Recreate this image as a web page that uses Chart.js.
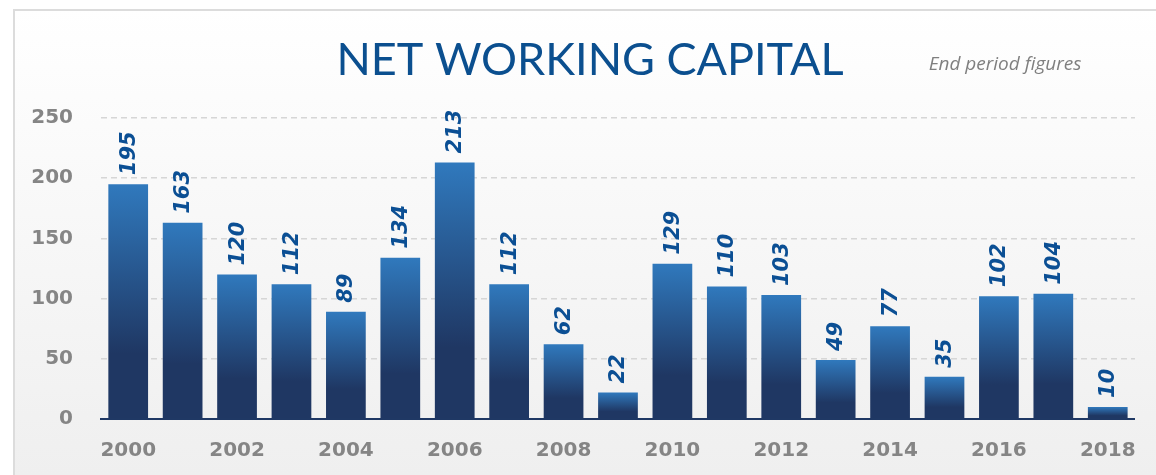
<!DOCTYPE html>
<html>
<head>
<meta charset="utf-8">
<title>Net Working Capital</title>
<script src="https://cdn.jsdelivr.net/npm/chart.js@4.4.1/dist/chart.umd.min.js"></script>
<style>
  html, body { margin: 0; padding: 0; background: #ffffff; }
  #wrap { width: 1156px; height: 475px; position: relative; }
</style>
</head>
<body>
<div id="wrap"><canvas id="nwc"></canvas></div>
<script>
// chart data
const years = ['2000', '2001', '2002', '2003', '2004', '2005', '2006', '2007', '2008', '2009',
               '2010', '2011', '2012', '2013', '2014', '2015', '2016', '2017', '2018'];
const netWorkingCapital = [195, 163, 120, 112, 89, 134, 213, 112, 62, 22,
                           129, 110, 103, 49, 77, 35, 102, 104, 10];
const yTicks = [0, 50, 100, 150, 200, 250];

const titleText = 'NET WORKING CAPITAL';
const subtitleText = 'End period figures';

const NUM_FONT = '"DejaVu Sans", sans-serif';

// panel background + border
const panelBackground = {
    id: 'panelBackground',
    beforeDraw(chart) {
        const { ctx, width, height } = chart;
        ctx.save();
        ctx.fillStyle = '#ffffff';
        ctx.fillRect(0, 0, width, height);
        const g = ctx.createLinearGradient(0, 9, 0, height);
        g.addColorStop(0, '#ffffff');
        g.addColorStop(1, '#efefef');
        ctx.fillStyle = g;
        ctx.fillRect(13, 9, width - 13, height - 9);
        ctx.strokeStyle = '#dcdcdc';
        ctx.lineWidth = 2;
        ctx.beginPath();
        ctx.moveTo(width, 10);
        ctx.lineTo(14, 10);
        ctx.lineTo(14, height);
        ctx.stroke();
        ctx.restore();
    }
};

// title and the small note on the right
const headerText = {
    id: 'headerText',
    afterDraw(chart) {
        const { ctx } = chart;
        ctx.save();
        ctx.fillStyle = '#0b4f8f';
        ctx.font = '45px Lato, sans-serif';
        ctx.textAlign = 'center';
        ctx.textBaseline = 'alphabetic';
        ctx.fillText(titleText, 590, 75);

        ctx.fillStyle = '#7f7f7f';
        ctx.font = 'italic 19px "Open Sans", sans-serif';
        ctx.fillText(subtitleText, 1005, 70);
        ctx.restore();
    }
};

// rotated value labels above each bar
const barValueLabels = {
    id: 'barValueLabels',
    afterDatasetsDraw(chart) {
        const { ctx } = chart;
        const meta = chart.getDatasetMeta(0);
        ctx.save();
        ctx.fillStyle = '#0b4f94';
        ctx.font = 'italic bold 21px ' + NUM_FONT;
        ctx.textAlign = 'left';
        ctx.textBaseline = 'middle';
        meta.data.forEach((bar, i) => {
            ctx.save();
            ctx.translate(bar.x + 1, bar.y - 9);
            ctx.rotate(-Math.PI / 2);
            ctx.fillText(String(netWorkingCapital[i]), 0, 0);
            ctx.restore();
        });
        ctx.restore();
    }
};

function barGradient(context) {
    const chart = context.chart;
    const { chartArea, scales } = chart;
    if (!chartArea || !scales.y) {
        return '#2a5f9e';
    }
    const top = scales.y.getPixelForValue(context.raw);
    const base = scales.y.getPixelForValue(0);
    const g = chart.ctx.createLinearGradient(0, top, 0, base);
    g.addColorStop(0, '#3079bd');
    g.addColorStop(0.72, '#1f3763');
    g.addColorStop(1, '#1f3763');
    return g;
}

const chart = new Chart(document.getElementById('nwc'), {
    type: 'bar',
    data: {
        labels: years,
        datasets: [{
            label: 'Net working capital',
            data: netWorkingCapital,
            backgroundColor: barGradient,
            borderWidth: 0,
            barPercentage: 0.73,
            categoryPercentage: 1.0
        }]
    },
    options: {
        responsive: true,
        maintainAspectRatio: false,
        animation: false,
        layout: {
            padding: { top: 118, right: 16, left: 0, bottom: 0 }
        },
        plugins: {
            legend: { display: false },
            title: { display: false },
            tooltip: { enabled: false }
        },
        scales: {
            x: {
                grid: { display: false, drawTicks: false },
                border: { display: true, color: '#1f3864', width: 2 },
                ticks: {
                    autoSkip: false,
                    maxRotation: 0,
                    padding: 20,
                    color: '#858585',
                    font: { family: NUM_FONT, size: 20, weight: 'bold' },
                    callback: function (value, index) {
                        return index % 2 === 0 ? this.getLabelForValue(value) : '';
                    }
                },
                afterFit(scale) { scale.height = 56; }
            },
            y: {
                min: 0,
                max: 250,
                afterBuildTicks(scale) {
                    scale.ticks = yTicks.map(v => ({ value: v }));
                },
                grid: {
                    drawTicks: false,
                    color: (c) => c.tick && c.tick.value === 0 ? 'rgba(0,0,0,0)' : '#d6d6d6',
                    lineWidth: 1.5
                },
                border: { display: false, dash: [6, 4] },
                ticks: {
                    padding: 28,
                    color: '#858585',
                    font: { family: NUM_FONT, size: 20, weight: 'bold' }
                },
                afterFit(scale) { scale.width = 101; }
            }
        }
    },
    plugins: [panelBackground, headerText, barValueLabels]
});
</script>
</body>
</html>
